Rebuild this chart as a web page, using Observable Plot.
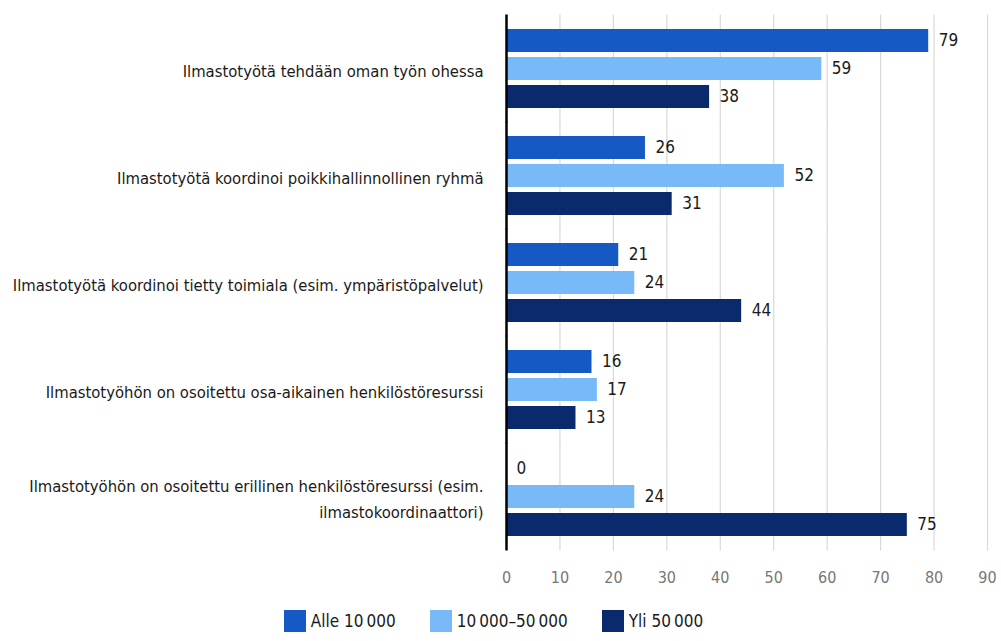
<!DOCTYPE html>
<html>
<head>
<meta charset="utf-8">
<script src="https://cdn.jsdelivr.net/npm/d3@7"></script>
<script src="https://cdn.jsdelivr.net/npm/@observablehq/plot@0.6"></script>
<style>
  body { margin: 0; background: #fff; }
  #chart { width: 1001px; }
  .legend { display: flex; justify-content: center; align-items: center; height: 41px; margin-left: 20px;
            font-family: "DejaVu Sans Condensed", "Liberation Sans Narrow", sans-serif; font-size: 17px; color: #1a1a1a; }
  .legend span.item { display: flex; align-items: center; margin-right: 34px; }
  .legend span.sw { width: 22px; height: 22px; display: inline-block; margin-right: 5px; }
</style>
</head>
<body>
<div id="chart"></div>
<script>
const categories = [
  "Ilmastotyötä tehdään oman työn ohessa",
  "Ilmastotyötä koordinoi poikkihallinnollinen ryhmä",
  "Ilmastotyötä koordinoi tietty toimiala (esim. ympäristöpalvelut)",
  "Ilmastotyöhön on osoitettu osa-aikainen henkilöstöresurssi",
  "Ilmastotyöhön on osoitettu erillinen henkilöstöresurssi (esim. ilmastokoordinaattori)"
];
const categoryLabels = [
  "Ilmastotyötä tehdään oman työn ohessa",
  "Ilmastotyötä koordinoi poikkihallinnollinen ryhmä",
  "Ilmastotyötä koordinoi tietty toimiala (esim. ympäristöpalvelut)",
  "Ilmastotyöhön on osoitettu osa-aikainen henkilöstöresurssi",
  "Ilmastotyöhön on osoitettu erillinen henkilöstöresurssi (esim.\nilmastokoordinaattori)"
];
const series = ["Alle 10\u2009000", "10\u2009000–50\u2009000", "Yli 50\u2009000"];
const alle10000 = [79, 26, 21, 16, 0];
const v10000_50000 = [59, 52, 24, 17, 24];
const yli50000 = [38, 31, 44, 13, 75];
const colors = ["#1659c4", "#78baf8", "#0b2a6d"];
const xTicks = [0, 10, 20, 30, 40, 50, 60, 70, 80, 90];

const valuesBySeries = [alle10000, v10000_50000, yli50000];
const data = [];
categories.forEach((c, i) => {
  series.forEach((s, j) => data.push({category: c, series: s, value: valuesBySeries[j][i]}));
});
const labelOf = new Map(categories.map((c, i) => [c, categoryLabels[i]]));
const font = "'DejaVu Sans Condensed', 'Liberation Sans Narrow', sans-serif";

const plot = Plot.plot({
  width: 1001,
  height: 600,
  marginLeft: 506,
  marginRight: 14,
  marginTop: 15,
  marginBottom: 50,
  style: {fontFamily: font, background: "#fff"},
  x: {domain: [0, 90]},
  fy: {domain: categories, paddingInner: 0.26, paddingOuter: 0.13, label: null},
  y: {domain: series, paddingInner: 0.18, paddingOuter: 0, axis: null},
  color: {domain: series, range: colors},
  marks: [
    Plot.ruleX(xTicks.slice(1), {stroke: "#d9d9d9", strokeWidth: 1.2, insetTop: -14.5, insetBottom: -14.5}),
    Plot.barX(data, {fy: "category", y: "series", x: "value", fill: "series"}),
    Plot.text(data, {fy: "category", y: "series", x: "value", text: d => String(d.value),
      textAnchor: "start", dx: 10, fontSize: 17, fill: "#1a1a1a"}),
    Plot.ruleX([0], {stroke: "#000", strokeWidth: 2.5, insetTop: -14.5, insetBottom: -14.5}),
    Plot.axisX({ticks: xTicks, tickSize: 0, tickPadding: 35, fontSize: 16, fill: "#777", label: null}),
    Plot.axisFy({anchor: "left", tickSize: 0, tickPadding: 23, fontSize: 16.5, fill: "#1a1a1a", label: null,
      tickFormat: d => labelOf.get(d), lineHeight: 1.58})
  ]
});
document.getElementById("chart").appendChild(plot);

const legend = document.createElement("div");
legend.className = "legend";
series.forEach((s, j) => {
  const item = document.createElement("span");
  item.className = "item";
  const sw = document.createElement("span");
  sw.className = "sw";
  sw.style.background = colors[j];
  item.appendChild(sw);
  item.appendChild(document.createTextNode(s));
  legend.appendChild(item);
});
document.getElementById("chart").appendChild(legend);
</script>
</body>
</html>
